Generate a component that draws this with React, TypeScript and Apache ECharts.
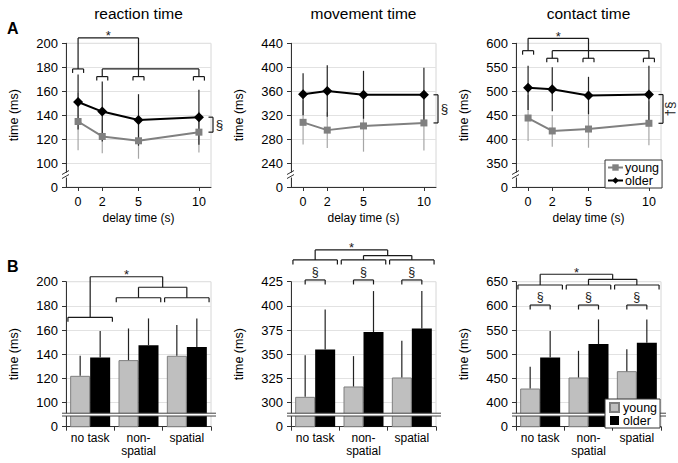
import React, { useEffect, useRef } from "react";
import * as echarts from "echarts";

const FONT = "'Liberation Sans', Arial, Helvetica, sans-serif";
const INK = "#1a1a1a";

// ---------- Panel A : delay time (s)
const delays = [0, 2, 5, 10];

const rtTicksA = [100, 120, 140, 160, 180, 200];
const rtYoung = [134.7, 122.2, 118.6, 125.8];
const rtYoungSd = [24, 14, 15, 17];
const rtOlder = [151, 143, 136, 138.3];
const rtOlderSd = [23, 25, 21.5, 23];

const mtTicksA = [240, 280, 320, 360, 400, 440];
const mtYoung = [308, 295, 302, 307];
const mtYoungSd = [37, 30, 43, 46];
const mtOlder = [355, 360.5, 354, 354];
const mtOlderSd = [35, 43, 40, 45];

const ctTicksA = [350, 400, 450, 500, 550, 600];
const ctYoung = [444, 417, 421, 433];
const ctYoungSd = [48, 33, 39, 46];
const ctOlder = [507, 504, 491, 493];
const ctOlderSd = [46, 46, 39, 60];

// ---------- Panel B : task condition
const conditions = ["no task", "non-\nspatial", "spatial"];

const rtTicksB = [100, 120, 140, 160, 180, 200];
const rtBYoung = [122.1, 135.1, 138.7];
const rtBYoungSd = [16.6, 26.2, 25.4];
const rtBOlder = [137.3, 147.5, 145.9];
const rtBOlderSd = [21.8, 22.1, 23.7];

const mtTicksB = [300, 325, 350, 375, 400, 425];
const mtBYoung = [305.9, 316.6, 325.9];
const mtBYoungSd = [43.1, 31.4, 38];
const mtBOlder = [354.9, 372.9, 376.7];
const mtBOlderSd = [41.4, 42.4, 38.6];

const ctTicksB = [400, 450, 500, 550, 600, 650];
const ctBYoung = [429, 451.8, 464.9];
const ctBYoungSd = [44.9, 55.2, 45.6];
const ctBOlder = [493.2, 520.9, 523.6];
const ctBOlderSd = [54.6, 51.1, 48.4];

const titles = ["reaction time", "movement time", "contact time"];

// significance annotation levels (data units)
const bracketsA = [
  { top: 204.5, mid: 178.6, low: 172.2 },
  null,
  { top: 610.4, mid: 584.6, low: 568.75 },
];
const sigA = ["§", "§", "†§"];
const bracketsB = [
  { top: 204.1, first: 170.5, comb: 195.4, sub: 186.7, sig: null as null | number, sigText: 0 },
  { top: 457.9, first: 447.5, comb: 452, sub: 447.5, sig: 426.8, sigText: 435.4 },
  { top: 665.4, first: 643.2, comb: 655, sub: 643.2, sig: 601.7, sigText: 618.9 },
];

// ---------- layout
const COL_LEFT = [66, 291, 516];
const GRID_W = 145;
const A_TOP = 43.3;
const A_H = 143.7;
const B_TOP = 281.7;
const B_H = 145;
const X_MIN = -1;
const X_MAX = 11;
const BAR_W = 20;

const panelsA = [
  { ticks: rtTicksA, young: rtYoung, youngSd: rtYoungSd, older: rtOlder, olderSd: rtOlderSd },
  { ticks: mtTicksA, young: mtYoung, youngSd: mtYoungSd, older: mtOlder, olderSd: mtOlderSd },
  { ticks: ctTicksA, young: ctYoung, youngSd: ctYoungSd, older: ctOlder, olderSd: ctOlderSd },
];
const panelsB = [
  { ticks: rtTicksB, young: rtBYoung, youngSd: rtBYoungSd, older: rtBOlder, olderSd: rtBOlderSd },
  { ticks: mtTicksB, young: mtBYoung, youngSd: mtBYoungSd, older: mtBOlder, olderSd: mtBOlderSd },
  { ticks: ctTicksB, young: ctBYoung, youngSd: ctBYoungSd, older: ctBOlder, olderSd: ctBOlderSd },
];

function yAxisFor(gi: number, ticks: number[]) {
  const step = ticks[1] - ticks[0];
  const min = ticks[0] - step;
  return {
    gridIndex: gi,
    type: "value",
    min,
    max: ticks[ticks.length - 1],
    interval: step,
    axisLine: { show: true, onZero: false, lineStyle: { color: "#333", width: 1 } },
    axisTick: { show: true, length: 4, lineStyle: { color: "#333" } },
    axisLabel: {
      fontSize: 13,
      color: "#000",
      fontFamily: FONT,
      margin: 8,
      formatter: (v: number) => (v === min ? "0" : String(v)),
    },
    splitLine: { show: true, lineStyle: { color: "#e2e2e2" } },
    name: "time (ms)",
    nameLocation: "middle",
    nameGap: 46,
    nameRotate: 90,
    nameTextStyle: { fontSize: 12.5, fontFamily: FONT, color: "#000" },
  };
}

function mkLine(a: number[], b: number[], color = INK, w = 1.2) {
  return { type: "line", shape: { x1: a[0], y1: a[1], x2: b[0], y2: b[1] }, style: { stroke: color, lineWidth: w } };
}
function mkText(x: number, y: number, text: string, size: number, rot = 0) {
  return {
    type: "text",
    x,
    y,
    rotation: rot,
    style: { text, x: 0, y: 0, fontSize: size, fontFamily: FONT, fill: INK, align: "center", verticalAlign: "middle" },
  };
}

function buildOption() {
  const grid: any[] = [];
  const xAxis: any[] = [];
  const yAxis: any[] = [];
  const series: any[] = [];

  panelsA.forEach((p, i) => {
    grid.push({ left: COL_LEFT[i], top: A_TOP, width: GRID_W, height: A_H, show: true, borderColor: "#d6d6d6", borderWidth: 1 });
    xAxis.push({
      gridIndex: i,
      type: "value",
      min: X_MIN,
      max: X_MAX,
      axisLine: { show: true, onZero: false, lineStyle: { color: "#333" } },
      axisTick: { show: true, length: 4, customValues: delays, lineStyle: { color: "#333" } },
      axisLabel: { customValues: delays, fontSize: 12.5, color: "#000", fontFamily: FONT, margin: 8 },
      splitLine: { show: false },
      name: "delay time (s)",
      nameLocation: "middle",
      nameGap: 25,
      nameTextStyle: { fontSize: 12, fontFamily: FONT, color: "#000" },
    });
    yAxis.push(yAxisFor(i, p.ticks));

    const errSeries = (mean: number[], sd: number[], color: string) => ({
      type: "custom",
      xAxisIndex: i,
      yAxisIndex: i,
      silent: true,
      clip: false,
      z: 3,
      data: delays.map((d, j) => [d, mean[j], sd[j]]),
      encode: { x: 0, y: 1 },
      renderItem: (_params: any, api: any) => {
        const x = api.value(0);
        const m = api.value(1);
        const s = api.value(2);
        const t = api.coord([x, m + s]);
        const b = api.coord([x, m - s]);
        return mkLine(t, b, color, 1.2);
      },
    });
    series.push(errSeries(p.young, p.youngSd, "#a6a6a6"));
    series.push(errSeries(p.older, p.olderSd, "#222"));

    series.push({
      type: "line",
      name: "young",
      xAxisIndex: i,
      yAxisIndex: i,
      silent: true,
      z: 4,
      data: delays.map((d, j) => [d, p.young[j]]),
      symbol: "rect",
      symbolSize: 7,
      itemStyle: { color: "#808080" },
      lineStyle: { color: "#808080", width: 2 },
    });
    series.push({
      type: "line",
      name: "older",
      xAxisIndex: i,
      yAxisIndex: i,
      silent: true,
      z: 5,
      data: delays.map((d, j) => [d, p.older[j]]),
      symbol: "diamond",
      symbolSize: 10,
      itemStyle: { color: "#000" },
      lineStyle: { color: "#000", width: 2 },
    });

    const br = bracketsA[i];
    const step = p.ticks[1] - p.ticks[0];
    const min = p.ticks[0] - step;
    series.push({
      type: "custom",
      xAxisIndex: i,
      yAxisIndex: i,
      silent: true,
      clip: false,
      z: 6,
      data: [[0, p.ticks[0]]],
      renderItem: (_params: any, api: any) => {
        const ch: any[] = [];
        const P = (x: number, v: number) => api.coord([x, v]);
        const seg = (a: number[], b: number[]) => ch.push(mkLine(a, b));
        // axis break marks
        const bp = P(X_MIN, min + step / 2);
        ch.push({ type: "rect", shape: { x: bp[0] - 2, y: bp[1] - 2.5, width: 4, height: 5 }, style: { fill: "#fff" } });
        ch.push(mkLine([bp[0] - 4, bp[1] - 0.5], [bp[0] + 3, bp[1] - 4.5], "#333", 1));
        ch.push(mkLine([bp[0] - 4, bp[1] + 3.5], [bp[0] + 3, bp[1] - 0.5], "#333", 1));
        // right-hand group bracket
        const n = delays.length - 1;
        const xr = P(X_MAX, 0)[0] + 2;
        const yo = P(0, p.older[n])[1];
        const yy = P(0, p.young[n])[1];
        seg([xr, yo], [xr, yy]);
        seg([xr - 4.5, yo], [xr, yo]);
        seg([xr - 4.5, yy], [xr, yy]);
        ch.push(mkText(xr + 6.5, (yo + yy) / 2, sigA[i], 13.5, sigA[i].length > 1 ? Math.PI / 2 : 0));
        if (br) {
          const cap = (x: number, v: number) => {
            const c = P(x, v);
            seg([c[0] - 5.5, c[1]], [c[0] + 5.5, c[1]]);
            seg([c[0] - 5.5, c[1]], [c[0] - 5.5, c[1] + 4]);
            seg([c[0] + 5.5, c[1]], [c[0] + 5.5, c[1] + 4]);
          };
          const [d0, d1, d2, d3] = delays;
          seg(P(d0, br.top), P(d2, br.top));
          seg(P(d0, br.top), P(d0, br.mid));
          seg(P(d2, br.top), P(d2, br.low));
          seg(P(d1, br.mid), P(d3, br.mid));
          seg(P(d1, br.mid), P(d1, br.low));
          seg(P(d3, br.mid), P(d3, br.low));
          cap(d0, br.mid);
          cap(d1, br.low);
          cap(d2, br.low);
          cap(d3, br.low);
          const s = P((d0 + d2) / 2, br.top);
          ch.push(mkText(s[0], s[1] - 2, "*", 13));
        }
        return { type: "group", children: ch };
      },
    });
  });

  panelsB.forEach((p, k) => {
    const gi = 3 + k;
    grid.push({ left: COL_LEFT[k], top: B_TOP, width: GRID_W, height: B_H, show: true, borderColor: "#d6d6d6", borderWidth: 1 });
    xAxis.push({
      gridIndex: gi,
      type: "category",
      data: conditions,
      axisLine: { show: true, onZero: false, lineStyle: { color: "#333" } },
      axisTick: { show: true, length: 4, lineStyle: { color: "#333" } },
      axisLabel: { interval: 0, fontSize: 12, lineHeight: 13, color: "#000", fontFamily: FONT, margin: 5 },
      splitLine: { show: false },
    });
    yAxis.push(yAxisFor(gi, p.ticks));

    series.push({
      type: "bar",
      name: "young ",
      xAxisIndex: gi,
      yAxisIndex: gi,
      silent: true,
      data: p.young,
      barWidth: BAR_W,
      barGap: "0%",
      itemStyle: { color: "#bfbfbf", borderColor: "#7f7f7f", borderWidth: 1 },
    });
    series.push({
      type: "bar",
      name: "older ",
      xAxisIndex: gi,
      yAxisIndex: gi,
      silent: true,
      data: p.older,
      barWidth: BAR_W,
      barGap: "0%",
      itemStyle: { color: "#000" },
    });
    const errData: number[][] = [];
    conditions.forEach((_c, j) => {
      errData.push([j, p.young[j], p.youngSd[j], -1]);
      errData.push([j, p.older[j], p.olderSd[j], 1]);
    });
    series.push({
      type: "custom",
      xAxisIndex: gi,
      yAxisIndex: gi,
      silent: true,
      clip: false,
      z: 3,
      data: errData,
      encode: { x: 0, y: 1 },
      renderItem: (_params: any, api: any) => {
        const j = api.value(0);
        const m = api.value(1);
        const s = api.value(2);
        const side = api.value(3);
        const c = api.coord([j, m]);
        const t = api.coord([j, m + s]);
        const dx = (side * BAR_W) / 2;
        return mkLine([c[0] + dx, c[1]], [c[0] + dx, t[1]], "#222", 1.2);
      },
    });

    const br = bracketsB[k];
    const step = p.ticks[1] - p.ticks[0];
    const min = p.ticks[0] - step;
    series.push({
      type: "custom",
      xAxisIndex: gi,
      yAxisIndex: gi,
      silent: true,
      clip: false,
      z: 6,
      data: [[0, p.ticks[0]]],
      renderItem: (_params: any, api: any) => {
        const ch: any[] = [];
        const bw = api.size([1, 0])[0];
        const P = (x: number, v: number) => {
          const c = api.coord([0, v]);
          return [c[0] + x * bw, c[1]];
        };
        const seg = (a: number[], b: number[]) => ch.push(mkLine(a, b));
        const capPx = (x1: number, x2: number, y: number, t: number) => {
          seg([x1, y], [x2, y]);
          seg([x1, y], [x1, y + t]);
          seg([x2, y], [x2, y + t]);
        };
        const cap = (c1: number, c2: number, v: number) => {
          const a = P(c1, v);
          const b = P(c2, v);
          capPx(a[0], b[0], a[1], 4.5);
        };
        // axis break (double line)
        const yc = P(0, min + step / 2)[1];
        const L = P(-0.5, 0)[0] - 4;
        const R = P(conditions.length - 0.5, 0)[0] + 5;
        ch.push({ type: "rect", shape: { x: L, y: yc - 1.4, width: R - L, height: 2.8 }, style: { fill: "#fff" } });
        ch.push(mkLine([L, yc - 1.4], [R, yc - 1.4], "#444", 1));
        ch.push(mkLine([L, yc + 1.4], [R, yc + 1.4], "#444", 1));
        // condition brackets
        cap(-0.46, 0.46, br.first);
        cap(0.54, 1.46, br.sub);
        cap(1.54, 2.46, br.sub);
        seg(P(1, br.comb), P(2, br.comb));
        seg(P(1, br.comb), P(1, br.sub));
        seg(P(2, br.comb), P(2, br.sub));
        seg(P(0, br.top), P(1.5, br.top));
        seg(P(0, br.top), P(0, br.first));
        seg(P(1.5, br.top), P(1.5, br.comb));
        const s = P(0.75, br.top);
        ch.push(mkText(s[0], s[1] - 2, "*", 13));
        // group brackets within each condition
        if (br.sig !== null) {
          conditions.forEach((_c, j) => {
            const c = P(j, br.sig as number);
            capPx(c[0] - BAR_W / 2, c[0] + BAR_W / 2, c[1], 4.5);
            const tpos = P(j, br.sigText);
            ch.push(mkText(tpos[0], tpos[1], "§", 12.5));
          });
        }
        return { type: "group", children: ch };
      },
    });
  });

  const graphic: any[] = titles.map((t, i) => ({
    type: "text",
    x: COL_LEFT[i] + GRID_W / 2,
    y: 13,
    style: { text: t, fontSize: 15.5, fontFamily: FONT, fill: "#000", align: "center", verticalAlign: "middle" },
  }));
  graphic.push({ type: "text", x: 7, y: 28, style: { text: "A", fontSize: 16, fontWeight: "bold", fontFamily: FONT, fill: "#000", verticalAlign: "middle" } });
  graphic.push({ type: "text", x: 7, y: 266, style: { text: "B", fontSize: 16, fontWeight: "bold", fontFamily: FONT, fill: "#000", verticalAlign: "middle" } });

  const legendBase = {
    orient: "vertical",
    selectedMode: false,
    borderColor: "#333",
    borderWidth: 1,
    backgroundColor: "#fff",
    itemGap: 0,
    z: 10,
  };

  return {
    animation: false,
    textStyle: { fontFamily: FONT },
    grid,
    xAxis,
    yAxis,
    series,
    graphic,
    legend: [
      {
        ...legendBase,
        left: 605,
        top: 160,
        padding: [1, 3, 1, 2],
        itemWidth: 15,
        itemHeight: 8,
        textStyle: { fontSize: 12.5, fontFamily: FONT, color: "#000", lineHeight: 12, padding: [0, 0, 0, -3] },
        data: ["young", "older"],
      },
      {
        ...legendBase,
        left: 605,
        top: 399,
        padding: [2, 3, 1, 4],
        itemWidth: 9,
        itemHeight: 9,
        formatter: (n: string) => n.trim(),
        textStyle: { fontSize: 12.5, fontFamily: FONT, color: "#000", lineHeight: 11, padding: [0, 0, 0, -1] },
        data: [
          { name: "young ", icon: "rect" },
          { name: "older ", icon: "rect" },
        ],
      },
    ],
  };
}

export default function App() {
  const ref = useRef<HTMLDivElement>(null);
  useEffect(() => {
    if (!ref.current) return;
    const chart = echarts.init(ref.current, null, { renderer: "svg" });
    chart.setOption(buildOption() as any);
    return () => chart.dispose();
  }, []);
  return (
    <div
      ref={ref}
      style={{ position: "absolute", left: 0, top: 0, width: 678, height: 463, background: "#fff" }}
    />
  );
}
